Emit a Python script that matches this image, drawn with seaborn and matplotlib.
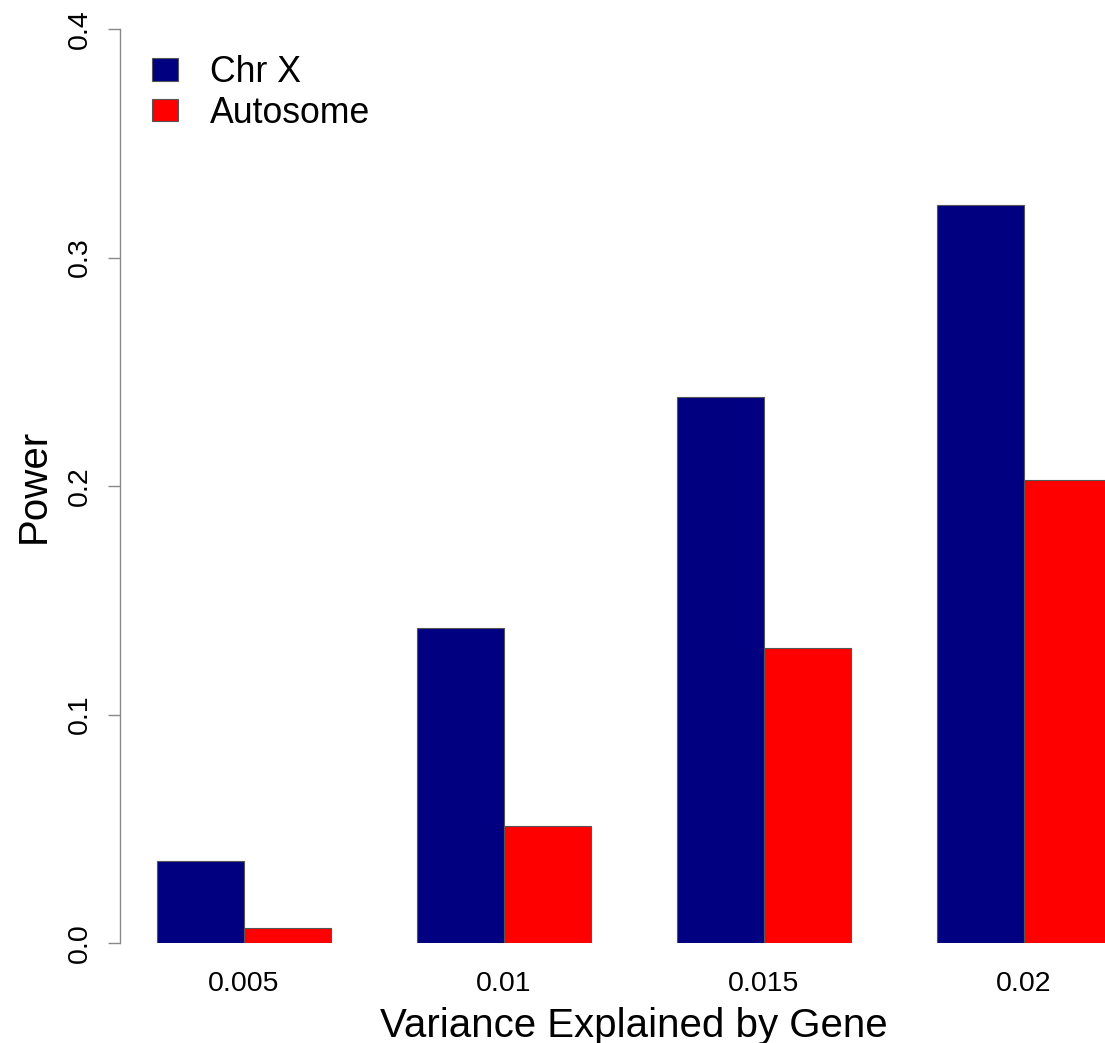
import matplotlib
matplotlib.use("Agg")
import matplotlib.pyplot as plt
import seaborn as sns
import pandas as pd

categories = ["0.005", "0.01", "0.015", "0.02"]
chr_x = [0.036, 0.138, 0.239, 0.323]
autosome = [0.0066, 0.051, 0.129, 0.2026]
series_names = ["Chr X", "Autosome"]
colors = ["#000080", "#FF0000"]

df = pd.DataFrame({
    "variance": categories * 2,
    "power": chr_x + autosome,
    "group": [series_names[0]] * 4 + [series_names[1]] * 4,
})

sns.set_style("white")
plt.rcParams["font.family"] = ["Liberation Sans", "DejaVu Sans"]
plt.rcParams["text.color"] = "black"
plt.rcParams["axes.labelcolor"] = "black"
plt.rcParams["xtick.color"] = "black"
plt.rcParams["ytick.color"] = "black"

fig = plt.figure(figsize=(11.05, 10.43), dpi=100)
ax = fig.add_axes([120 / 1105, 100 / 1043, 985 / 1105, 914 / 1043])

sns.barplot(data=df, x="variance", y="power", hue="group", order=categories,
            hue_order=series_names, palette=colors, width=2 / 3, saturation=1,
            edgecolor="#555555", linewidth=0.8, ax=ax, legend=True)

ax.set_xlim(-0.477, 3.312)
ax.set_ylim(0, 0.4)
ax.set_yticks([0, 0.1, 0.2, 0.3, 0.4])
ax.set_yticklabels(["0.0", "0.1", "0.2", "0.3", "0.4"], rotation=90, va="center")
for s in ["top", "right", "bottom"]:
    ax.spines[s].set_visible(False)
ax.spines["left"].set_color("#888888")
ax.spines["left"].set_linewidth(1.0)
ax.tick_params(axis="y", direction="out", length=12 / 1.389, width=1.0,
               color="#888888", labelcolor="black", labelsize=20.5, pad=11, left=True)
ax.tick_params(axis="x", length=0, labelsize=20.5, pad=20, labelcolor="black")
ax.set_xlabel("Variance Explained by Gene", fontsize=29, labelpad=6, color="black")
ax.xaxis.set_label_coords((634 - 120) / 985, -0.07)
ax.set_ylabel("Power", fontsize=29, labelpad=10, color="black")

leg = ax.legend(loc="upper left", bbox_to_anchor=(0.018, 0.987), frameon=False,
                fontsize=25.7, handlelength=0.73, handleheight=0.59,
                handletextpad=0.9, labelspacing=0.15, borderaxespad=0)
for t in leg.get_texts():
    t.set_color("black")

fig.savefig("out.png", dpi=100, facecolor="white")
